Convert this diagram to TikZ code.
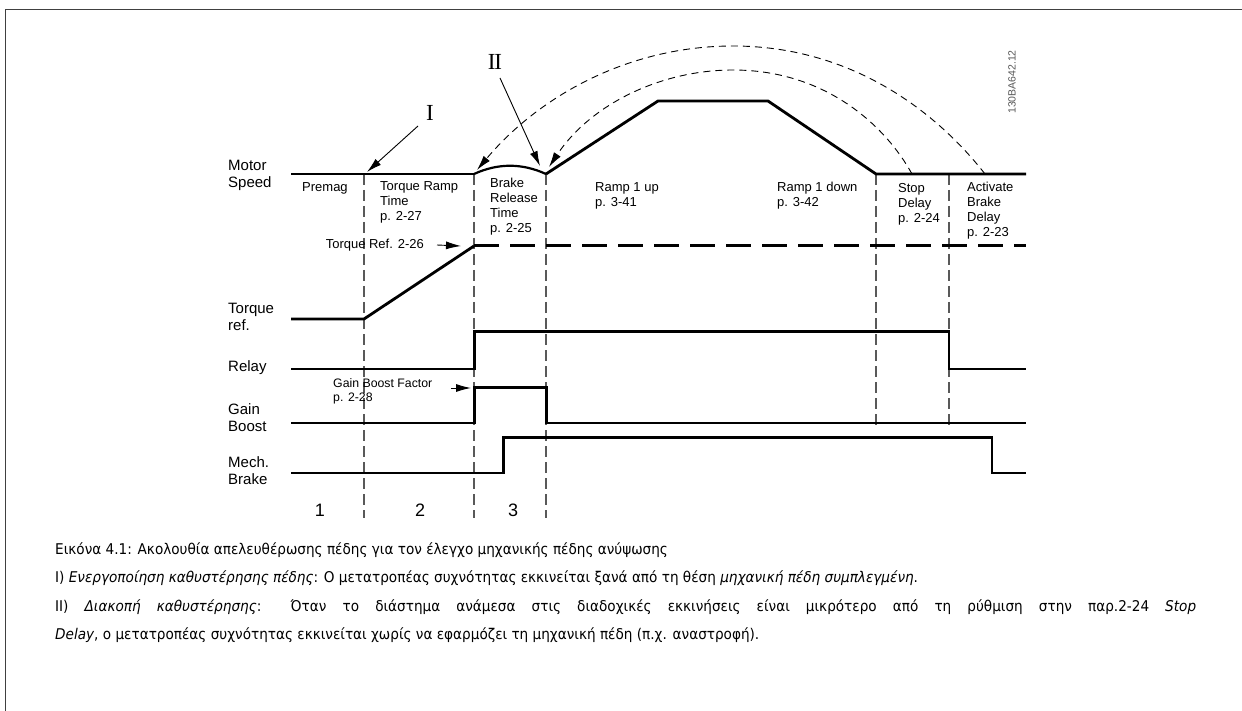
\documentclass[tikz,border=0pt]{standalone}
\usepackage{fontspec}
\setmainfont{Liberation Sans}
\newfontfamily\capfont[FakeStretch=0.92]{DejaVu Sans}
\newfontfamily\romfont{Liberation Serif}
\usetikzlibrary{arrows.meta}
\begin{document}
\begin{tikzpicture}[x=1pt,y=-1pt,
  sig/.style={line width=2.8pt, line join=miter, line cap=butt},
  vdash/.style={line width=1.1pt, draw=black!65, dash pattern=on 11pt off 5pt},
  arcline/.style={line width=0.9pt, dash pattern=on 7pt off 5pt, -{Latex[length=15pt,width=8pt]}},
  ptr/.style={line width=0.9pt, -{Latex[length=15pt,width=8pt]}},
  lbl/.style={anchor=north west, inner sep=0pt, align=left, font=\fontsize{13}{15}\selectfont},
  axislbl/.style={anchor=west, inner sep=0pt, align=left, font=\fontsize{15}{17}\selectfont},
  num/.style={inner sep=0pt, font=\fontsize{18}{18}\selectfont},
  roman/.style={inner sep=0pt, font=\romfont\fontsize{23}{23}\selectfont},
  captxt/.style={anchor=base west, inner sep=0pt, font=\capfont\fontsize{14.8}{18}\selectfont},
]
\useasboundingbox (0,0) rectangle (1242,711);
\fill[white] (0,0) rectangle (1242,711);
% frame
\coordinate (fa) at (5,711);
\coordinate (fb) at (5,10);
\coordinate (fc) at (1242,10);
\draw[line width=1pt, black!75] (fa) -- (fb) -- (fc);

% vertical dashed separators
\foreach \x in {364,474,546} \draw[vdash] (\x,174) -- (\x,518);
\foreach \x in {876,949} \draw[vdash] (\x,174) -- (\x,430);

% motor speed
\coordinate (s0) at (291,174);
\coordinate (s1) at (474,174);
\coordinate (s2) at (546,174);
\coordinate (s3) at (658,101);
\coordinate (s4) at (768,101);
\coordinate (s5) at (876,174);
\coordinate (s6) at (1026,174);
\draw[sig] (s0) -- (s1);
\draw[line width=2.2pt] (s1) .. controls (498,163) and (522,163) .. (s2);
\draw[sig] (s2) -- (s3) -- (s4) -- (s5) -- (s6);

% torque ref
\coordinate (t0) at (291,319);
\coordinate (t1) at (364,319);
\coordinate (t2) at (474,246);
\coordinate (t3) at (1026,246);
\draw[sig] (t0) -- (t1) -- (t2);
\draw[line width=3pt, dash pattern=on 25pt off 11pt] (t2) -- (t3);

% relay
\draw[sig] (291,369) -- (474.5,369) -- (474.5,331.5) -- (949,331.5) -- (949,369) -- (1026,369);
% gain boost
\draw[sig] (291,423) -- (474.5,423) -- (474.5,387.5) -- (546.5,387.5) -- (546.5,423) -- (1026,423);
% mech brake
\draw[sig] (291,473) -- (503.5,473) -- (503.5,437.5) -- (992,437.5) -- (992,473) -- (1026,473);

% axis labels
\node[axislbl] (lms) at (228,175) {Motor\\Speed};
\node[axislbl] (ltr) at (228,317) {Torque\\ref.};
\node[axislbl] (lrl) at (228,368) {Relay};
\node[axislbl] (lgb) at (228,418) {Gain\\Boost};
\node[axislbl] (lmb) at (228,471) {Mech.\\Brake};

% phase labels
\node[lbl] (pm) at (302,182.5) {Premag};
\node[lbl] (trt) at (380,181) {Torque Ramp\\Time\\p. 2-27};
\node[lbl] (brt) at (490,178) {Brake\\Release\\Time\\p. 2-25};
\node[lbl] (r1u) at (595,182) {Ramp 1 up\\p. 3-41};
\node[lbl] (r1d) at (777,182) {Ramp 1 down\\p. 3-42};
\node[lbl] (sd) at (898,183) {Stop\\Delay\\p. 2-24};
\node[lbl] (abd) at (967,182) {Activate\\Brake\\Delay\\p. 2-23};

% torque ref label + arrow
\node[inner sep=0pt, anchor=east, font=\fontsize{13}{15}\selectfont] (trl) at (424,245) {Torque Ref. 2-26};
\coordinate (trtip) at (461,246);
\draw[ptr] ([xshift=13pt]trl.east) -- (trtip);

% gain boost factor label + arrow
\node[lbl, font=\fontsize{12.3}{14.5}\selectfont] (gbf) at (333,378) {Gain Boost Factor\\p. 2-28};
\coordinate (gbtip) at (471,388);
\coordinate (gbst) at (451,388);
\draw[ptr] (gbst) -- (gbtip);

% phase numbers
\node[num] (n1) at (320,510) {1};
\node[num] (n2) at (420,510) {2};
\node[num] (n3) at (513,510) {3};

% I and II pointers
\node[roman] (rI) at (430,113) {I};
\node[roman] (rII) at (495,62) {I\kern-1.2ptI};
\coordinate (pI0) at (418,126);
\coordinate (pI1) at (367,172);
\coordinate (pII0) at (500,78);
\coordinate (pII1) at (540,166);
\draw[ptr] (pI0) -- (pI1);
\draw[ptr] (pII0) -- (pII1);

% dashed arcs
\coordinate (ao0) at (985,174);
\coordinate (aom) at (733,46);
\coordinate (ao1) at (477,170);
\coordinate (ai0) at (912,174);
\coordinate (aim) at (733,70);
\coordinate (ai1) at (549,167);
\draw[arcline] (ao0) .. controls (935,110) and (850,46) .. (aom) .. controls (630,46) and (540,95) .. (ao1);
\draw[arcline] (ai0) .. controls (885,125) and (825,70) .. (aim) .. controls (660,70) and (590,105) .. (ai1);

% drawing id
\node[rotate=90, inner sep=0pt, text=black!65, font=\fontsize{10.5}{11}\selectfont] (did) at (1012,82) {130BA642.12};

% caption
\node[captxt] (c1) at (55,554) {Εικόνα 4.1: Ακολουθία απελευθέρωσης πέδης για τον έλεγχο μηχανικής πέδης ανύψωσης};
\node[captxt] (c2) at (55,582.5) {I) \textit{Ενεργοποίηση καθυστέρησης πέδης}: Ο μετατροπέας συχνότητας εκκινείται ξανά από τη θέση \textit{μηχανική πέδη συμπλεγμένη}.};
\node[captxt] (c3) at (55,611) {\makebox[1141pt][s]{II) \textit{Διακοπή καθυστέρησης}: Όταν το διάστημα ανάμεσα στις διαδοχικές εκκινήσεις είναι μικρότερο από τη ρύθμιση στην παρ.2-24 \textit{Stop}}};
\node[captxt] (c4) at (55,639.5) {\textit{Delay}, ο μετατροπέας συχνότητας εκκινείται χωρίς να εφαρμόζει τη μηχανική πέδη (π.χ. αναστροφή).};
\end{tikzpicture}
\end{document}
